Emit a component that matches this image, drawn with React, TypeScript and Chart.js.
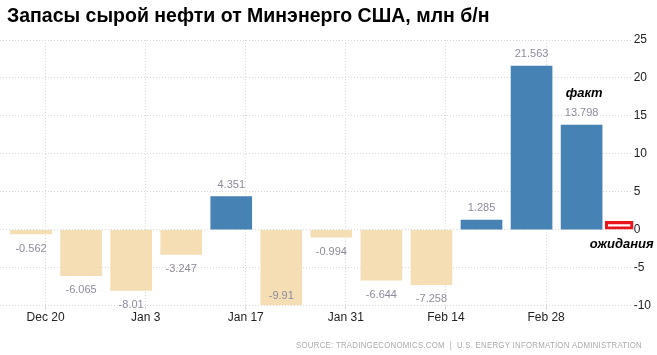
import React, { useEffect, useRef } from "react";
import { Chart, registerables } from "chart.js";

Chart.register(...registerables);

const TITLE = "Запасы сырой нефти от Минэнерго США, млн б/н";
const SOURCE = "SOURCE: TRADINGECONOMICS.COM  |  U.S. ENERGY INFORMATION ADMINISTRATION";

// weekly changes (index = week number)
const weekIndex = [0, 1, 2, 3, 4, 5, 6, 7, 8, 9, 10, 11];
const values = [-0.562, -6.065, -8.01, -3.247, 4.351, -9.91, -0.994, -6.644, -7.258, 1.285, 21.563, 13.798];

// expectation marker
const expectationX = [11.75];
const expectationY = [1.1];

// x tick labels and their positions (in week units)
const tickLabels = ["Dec 20", "Jan 3", "Jan 17", "Jan 31", "Feb 14", "Feb 28"];
const tickPositions = [0.29, 2.29, 4.29, 6.29, 8.29, 10.29];

const factLabel = { text: "факт", x: 11.05, y: 18 };
const expLabel = { text: "ожидания", x: 11.8, y: -1.9 };

const POS = "#4682b4";
const NEG = "#f5deb3";
const FONT = "'Liberation Sans', Arial, sans-serif";

const overlay = {
  id: "overlay",
  afterDraw(chart: any) {
    const ctx = chart.ctx;
    const xs = chart.scales.x;
    const ys = chart.scales.y;
    const area = chart.chartArea;
    ctx.save();
    // title
    ctx.fillStyle = "#000";
    ctx.font = `bold 19.5px ${FONT}`;
    ctx.textAlign = "left";
    ctx.textBaseline = "alphabetic";
    ctx.fillText(TITLE, 7, 22);

    // data labels
    const meta = chart.getDatasetMeta(0);
    ctx.font = `11px ${FONT}`;
    ctx.fillStyle = "#8f8a9c";
    ctx.textAlign = "center";
    ctx.textBaseline = "middle";
    meta.data.forEach((el: any, i: number) => {
      const v = values[i];
      let y = v >= 0 ? el.y - 12 : el.y + 14.5;
      if (y > area.bottom + 5) y = el.y - 9;
      ctx.fillText(String(v), el.x, y);
    });

    // annotations
    ctx.fillStyle = "#000";
    ctx.font = `italic bold 13px ${FONT}`;
    ctx.fillText(factLabel.text, xs.getPixelForValue(factLabel.x), ys.getPixelForValue(factLabel.y));
    ctx.fillText(expLabel.text, xs.getPixelForValue(expLabel.x), ys.getPixelForValue(expLabel.y));

    // source
    ctx.font = `9px ${FONT}`;
    ctx.fillStyle = "#aaaaaa";
    ctx.textAlign = "left";
    (ctx as any).letterSpacing = "0.3px";
    ctx.fillText(SOURCE, 296, 346, 346);
    ctx.restore();
  },
};

export default function App() {
  const ref = useRef<HTMLCanvasElement>(null);
  useEffect(() => {
    if (!ref.current) return;
    Chart.defaults.font.family = FONT;
    const chart = new Chart(ref.current, {
      type: "bar",
      data: {
        datasets: [
          {
            data: weekIndex.map((x, i) => ({ x, y: values[i] })),
            backgroundColor: values.map((v) => (v >= 0 ? POS : NEG)),
            grouped: false,
            barThickness: 41,
            borderWidth: 0,
          } as any,
          {
            data: expectationX.map((x, i) => ({ x, y: expectationY[i] })),
            backgroundColor: "rgba(255,255,255,0)",
            borderColor: "#e8161c",
            borderWidth: 2.5,
            borderSkipped: false,
            grouped: false,
            barThickness: 28,
            clip: false,
          } as any,
        ],
      },
      options: {
        responsive: false,
        animation: false,
        layout: { padding: { top: 40, left: 0, right: 4, bottom: 29 } },
        plugins: { legend: { display: false }, tooltip: { enabled: false }, title: { display: false } },
        scales: {
          x: {
            type: "linear",
            offset: false,
            min: -0.62,
            max: 12,
            afterBuildTicks: (scale: any) => {
              scale.ticks = tickPositions.map((v) => ({ value: v }));
            },
            ticks: {
              autoSkip: false,
              maxRotation: 0,
              padding: 1,
              color: "#222",
              font: { size: 12 },
              callback: (value: any) => {
                const i = tickPositions.indexOf(Number(value));
                return i >= 0 ? tickLabels[i] : "";
              },
            },
            grid: { offset: false, color: "#d9d9d9", tickLength: 4, tickColor: "#d9d9d9" },
            border: { display: false, dash: [1, 2] },
          },
          y: {
            position: "right",
            min: -10,
            max: 25,
            ticks: { stepSize: 5, padding: 2, color: "#222", font: { size: 12 } },
            grid: { color: "#d9d9d9", drawTicks: false },
            border: { display: false, dash: [1, 2] },
          },
        },
      },
      plugins: [overlay],
    });
    return () => chart.destroy();
  }, []);
  return (
    <div style={{ position: "fixed", left: 0, top: 0, width: 657, height: 355, background: "#fff" }}>
      <canvas ref={ref} width={657} height={355} />
    </div>
  );
}
